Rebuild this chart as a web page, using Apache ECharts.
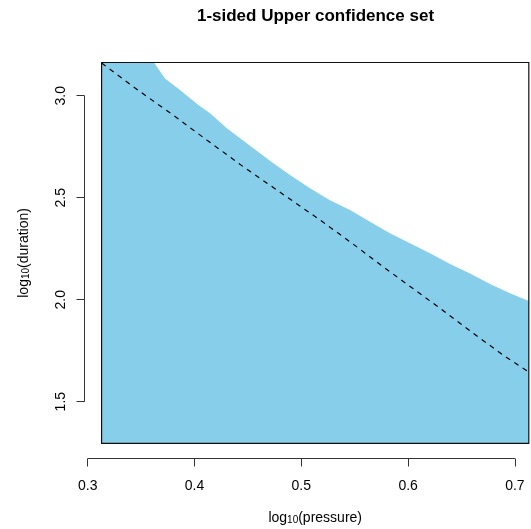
<!DOCTYPE html>
<html>
<head>
<meta charset="utf-8">
<script src="https://cdn.jsdelivr.net/npm/echarts@6/dist/echarts.min.js"></script>
<style>
html,body{margin:0;padding:0;background:#fff;}
#chart{width:531px;height:529px;}
</style>
</head>
<body>
<div id="chart"></div>
<script>
// ---- data ----
var titleText = '1-sided Upper confidence set';
var xTicks = [0.3, 0.4, 0.5, 0.6, 0.7];
var yTicks = [1.5, 2.0, 2.5, 3.0];
var xRange = [0.297, 0.729];
var yRange = [1.2214, 3.2374];
// bounding box of the confidence-set region
var boxX = [0.313, 0.713];
var boxY = [1.296, 3.163];
// upper boundary of the 1-sided confidence set
var upperX = [0.313, 0.362, 0.3724, 0.3864, 0.4036, 0.4145, 0.4302, 0.4489, 0.4613, 0.4738, 0.4894, 0.5081, 0.5268, 0.5456, 0.5643, 0.5830, 0.6017, 0.6205, 0.6392, 0.6579, 0.6767, 0.6954, 0.713];
var upperY = [3.163, 3.163, 3.085, 3.028, 2.954, 2.914, 2.840, 2.767, 2.718, 2.669, 2.611, 2.546, 2.487, 2.440, 2.382, 2.326, 2.277, 2.228, 2.175, 2.129, 2.077, 2.031, 1.993];
// dashed fitted line
var fitX = [0.313, 0.349, 0.3801, 0.4114, 0.4457, 0.4770, 0.5175, 0.5456, 0.5830, 0.6299, 0.6610, 0.6923, 0.713];
var fitY = [3.160, 3.020, 2.905, 2.783, 2.652, 2.538, 2.391, 2.284, 2.137, 1.958, 1.835, 1.716, 1.645];

var FONT = 'Liberation Sans, Arial, Helvetica, sans-serif';
var chart = echarts.init(document.getElementById('chart'), null, {renderer: 'canvas'});

function zip(a, b) { return a.map(function (v, i) { return [v, b[i]]; }); }

var nameRich = {
  a: {fontSize: 14, lineHeight: 20, verticalAlign: 'bottom', fontFamily: FONT, color: '#000'},
  s: {fontSize: 10, lineHeight: 8, verticalAlign: 'bottom', fontFamily: FONT, color: '#000'}
};

var option = {
  animation: false,
  backgroundColor: '#fff',
  title: {
    text: titleText,
    left: 315.5,
    top: 8,
    padding: 0,
    textAlign: 'center',
    textStyle: {fontSize: 17, fontWeight: 'bold', color: '#000', fontFamily: FONT}
  },
  grid: {left: 84.5, top: 47.3, height: 411.2, width: 461.4, containLabel: false, outerBoundsMode: 'none'},
  xAxis: {
    type: 'value',
    min: xRange[0], max: xRange[1],
    name: '{a|log}{s|10}{a|(pressure)}',
    nameLocation: 'middle',
    nameGap: 47,
    nameTextStyle: {rich: nameRich},
    axisLine: {show: false},
    splitLine: {show: false},
    axisTick: {show: true, length: 8, customValues: xTicks, lineStyle: {color: '#333', width: 1}},
    axisLabel: {customValues: xTicks, margin: 21, fontSize: 14, color: '#000', fontFamily: FONT,
      formatter: function (v) { return v.toFixed(1); }}
  },
  yAxis: {
    type: 'value',
    min: yRange[0], max: yRange[1],
    name: '{a|log}{s|10}{a|(duration)}',
    nameLocation: 'middle',
    nameGap: 53,
    nameTextStyle: {rich: nameRich},
    axisLine: {show: false},
    splitLine: {show: false},
    axisTick: {show: true, length: 8, customValues: yTicks, lineStyle: {color: '#333', width: 1}},
    axisLabel: {customValues: yTicks, margin: 16.5, rotate: 90, fontSize: 14, color: '#000', fontFamily: FONT,
      formatter: function (v) { return v.toFixed(1); }}
  },
  series: [
    {
      // filled confidence set
      type: 'custom',
      z: 1,
      clip: false,
      data: [0],
      renderItem: function (params, api) {
        var pts = [api.coord([boxX[0], boxY[0]])];
        for (var i = 0; i < upperX.length; i++) pts.push(api.coord([upperX[i], upperY[i]]));
        pts.push(api.coord([boxX[1], boxY[0]]));
        return {type: 'polygon', shape: {points: pts}, style: {fill: '#87CEEB', stroke: null}};
      }
    },
    {
      type: 'line',
      z: 3,
      data: zip(fitX, fitY),
      showSymbol: false,
      symbol: 'none',
      smooth: false,
      lineStyle: {color: '#000', width: 1.2, type: [5, 5]},
      silent: true
    },
    {
      // box round the region and R-style axis lines
      type: 'custom',
      z: 4,
      clip: false,
      data: [0],
      renderItem: function (params, api) {
        var p0 = api.coord([boxX[0], boxY[1]]);
        var p1 = api.coord([boxX[1], boxY[0]]);
        var xa0 = api.coord([xTicks[0], yRange[0]]);
        var xa1 = api.coord([xTicks[xTicks.length - 1], yRange[0]]);
        var ya0 = api.coord([xRange[0], yTicks[0]]);
        var ya1 = api.coord([xRange[0], yTicks[yTicks.length - 1]]);
        return {
          type: 'group',
          children: [
            {type: 'rect', shape: {x: p0[0], y: p0[1], width: p1[0] - p0[0], height: p1[1] - p0[1]},
              style: {fill: null, stroke: '#111', lineWidth: 1.2}},
            {type: 'line', shape: {x1: xa0[0], y1: xa0[1], x2: xa1[0], y2: xa1[1]},
              style: {stroke: '#333', lineWidth: 1}},
            {type: 'line', shape: {x1: ya0[0], y1: ya0[1], x2: ya1[0], y2: ya1[1]},
              style: {stroke: '#333', lineWidth: 1}}
          ]
        };
      }
    }
  ]
};
chart.setOption(option);
</script>
</body>
</html>
